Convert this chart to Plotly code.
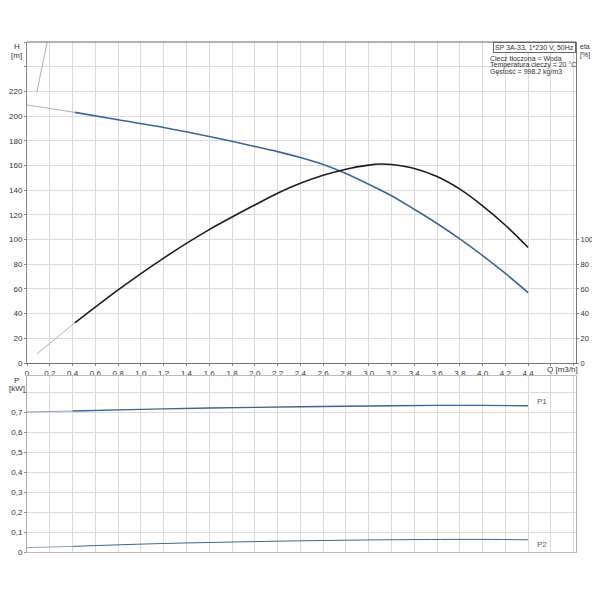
import plotly.graph_objects as go

# pump curve H(Q), thin part is outside the working range
q_h_thin = [0.0, 0.42]
h_thin = [209, 203]
q_h = [0.42, 0.8, 1.2, 1.6, 2.0, 2.2, 2.4, 2.6, 2.8, 3.0, 3.2, 3.4, 3.6, 3.8, 4.0, 4.2, 4.4]
h = [203, 197, 190.8, 183.5, 175.4, 171.2, 166.4, 160.8, 153.5, 144.8, 135.5, 124.5, 113, 100.5, 87, 72.5, 57]

# efficiency curve
q_eta_thin = [0.086, 0.42]
eta_thin = [7.3, 32.5]
q_eta = [0.42, 0.8, 1.2, 1.6, 2.0, 2.2, 2.4, 2.6, 2.8, 3.0, 3.1, 3.2, 3.4, 3.6, 3.8, 4.0, 4.2, 4.4]
eta = [32.5, 59.2, 85, 108, 128, 137.5, 145.5, 152, 157, 160.3, 161.2, 160.8, 157.6, 151, 140.8, 127.3, 111.6, 93.5]

# steep grey line top left
q_steep = [0.086, 0.18]
h_steep = [219.5, 261]

# power curves
q_p1_thin = [0.0, 0.4]
p1_thin = [0.700, 0.705]
q_p1 = [0.4, 1.0, 1.6, 2.4, 3.0, 3.6, 4.0, 4.4]
p1 = [0.705, 0.713, 0.720, 0.726, 0.730, 0.733, 0.733, 0.731]
q_p2_thin = [0.0, 0.4]
p2_thin = [0.022, 0.028]
q_p2 = [0.4, 1.1, 2.0, 2.8, 3.4, 4.0, 4.4]
p2 = [0.028, 0.041, 0.052, 0.059, 0.062, 0.063, 0.061]

# ticks
q_ticks = [round(0.2 * i, 1) for i in range(25)]
q_labels = ["0"] + [f"{v:.1f}".replace(".", ",") for v in q_ticks[1:23]] + ["", ""]
h_ticks = list(range(0, 261, 20))
h_labels = [str(v) for v in h_ticks[:12]] + ["", ""]
eta_ticks = list(range(0, 101, 20))
p_ticks = [round(0.1 * i, 1) for i in range(9)]
p_labels = ["0"] + [f"{v:.1f}".replace(".", ",") for v in p_ticks[1:8]] + [""]

blue = "#3a6796"
black = "#1c1c1c"
thin = "#9a9a9a"
grid = "#dadada"
font = dict(family="Liberation Sans", size=8, color="#333")
small = dict(family="Liberation Sans", size=7.5, color="#333")

fig = go.Figure()
fig.add_trace(go.Scatter(x=q_steep, y=h_steep, mode="lines", line=dict(color=thin, width=0.8)))
fig.add_trace(go.Scatter(x=q_h_thin, y=h_thin, mode="lines", line=dict(color=thin, width=0.8)))
fig.add_trace(go.Scatter(x=q_h, y=h, mode="lines", line=dict(color=blue, width=1.6, shape="spline", smoothing=0.8)))
fig.add_trace(go.Scatter(x=q_eta_thin, y=eta_thin, mode="lines", line=dict(color=thin, width=0.8), yaxis="y2"))
fig.add_trace(go.Scatter(x=q_eta, y=eta, mode="lines", line=dict(color=black, width=1.6, shape="spline", smoothing=0.8), yaxis="y2"))
fig.add_trace(go.Scatter(x=q_p1_thin, y=p1_thin, mode="lines", line=dict(color="#7f9bb8", width=0.9), xaxis="x2", yaxis="y3"))
fig.add_trace(go.Scatter(x=q_p1, y=p1, mode="lines", line=dict(color=blue, width=1.4, shape="spline"), xaxis="x2", yaxis="y3"))
fig.add_trace(go.Scatter(x=q_p2_thin, y=p2_thin, mode="lines", line=dict(color="#7f9bb8", width=0.9), xaxis="x2", yaxis="y3"))
fig.add_trace(go.Scatter(x=q_p2, y=p2, mode="lines", line=dict(color=blue, width=1.0, shape="spline"), xaxis="x2", yaxis="y3"))

# page body adds an 8px offset; plot area on the page is x 27..576, y 42..552
ML, MR = 19, 16
W, H = 584, 570
PW = W - ML - MR

def px(x):
    return (x - 8 - ML) / PW

def py(y):
    return (552 - y) / 510.0

top_dom = [py(363), 1.0]
bot_dom = [0.0, py(376)]

fig.update_layout(
    width=W, height=H,
    margin=dict(l=ML, r=MR, t=34, b=H - 544),
    paper_bgcolor="white", plot_bgcolor="white",
    showlegend=False,
    font=font,
    xaxis=dict(range=[0, 4.82], tickvals=q_ticks, ticktext=q_labels, anchor="y", automargin=False,
               showline=True, linecolor="#777", showgrid=True, gridcolor=grid, zeroline=False,
               tickfont=font, ticks="outside", ticklen=2, tickcolor="#888"),
    yaxis=dict(range=[0, 260], domain=top_dom, tickvals=h_ticks, ticktext=h_labels, anchor="x", automargin=False,
               showline=True, linecolor="#888", showgrid=True, gridcolor=grid, zeroline=False,
               tickfont=font, ticks="outside", ticklen=2, tickcolor="#888"),
    yaxis2=dict(range=[0, 260], overlaying="y", side="right", tickvals=eta_ticks, anchor="x", automargin=False,
                showgrid=False, zeroline=False, showline=True, linecolor="#777",
                ticks="outside", ticklen=2, tickcolor="#888", tickfont=small),
    xaxis2=dict(range=[0, 4.82], tickvals=q_ticks, showticklabels=False, anchor="y3", automargin=False,
                showline=True, linecolor="#bbb", mirror=True, showgrid=True, gridcolor=grid, zeroline=False),
    yaxis3=dict(range=[0, 0.88], domain=bot_dom, tickvals=p_ticks, ticktext=p_labels, anchor="x2", automargin=False,
                showline=True, linecolor="#aaa", mirror=True, showgrid=True, gridcolor=grid, zeroline=False,
                tickfont=font, ticks="outside", ticklen=2, tickcolor="#888"),
)

# top border of upper plot
fig.add_shape(type="line", xref="paper", yref="paper", x0=0, x1=1, y0=1, y1=1,
              line=dict(color="#666", width=1))

ann = [
    ("H", 17, 47, 8), ("[m]", 17, 55, 8),
    ("eta", 585, 47, 7), ("[%]", 585, 55, 7),
    ("P", 17, 380, 8), ("[kW]", 17, 388, 8),
    ("P1", 542, 402, 8), ("P2", 542, 544, 8),
]
for text, x, y, size in ann:
    color = blue if text in ("P1", "P2") else "#333"
    fig.add_annotation(text=text, x=px(x), y=py(y), xref="paper", yref="paper", showarrow=False,
                       xanchor="center", yanchor="middle", font=dict(family="Liberation Sans", size=size, color=color))

fig.add_annotation(text="Q [m3/h]", x=px(562), y=py(370), xref="paper", yref="paper", showarrow=False,
                   xanchor="center", yanchor="middle", font=font)

fig.add_annotation(text="SP 3A-33, 1*230 V, 50Hz", x=1.0, y=1.0, xref="paper", yref="paper", showarrow=False,
                   xanchor="right", yanchor="top", bgcolor="white", bordercolor="#666", borderwidth=1, borderpad=1,
                   font=dict(family="Liberation Sans", size=7, color="#333"))

info = ["Ciecz tłoczona = Woda", "Temperatura cieczy = 20 °C", "Gęstość = 998.2 kg/m3"]
for i, line in enumerate(info):
    fig.add_annotation(text=line, x=px(488), y=py(58 + 7 * i), xref="paper", yref="paper", showarrow=False,
                       xanchor="left", yanchor="middle", font=dict(family="Liberation Sans", size=7, color="#333"))

fig.write_html("out.html")
